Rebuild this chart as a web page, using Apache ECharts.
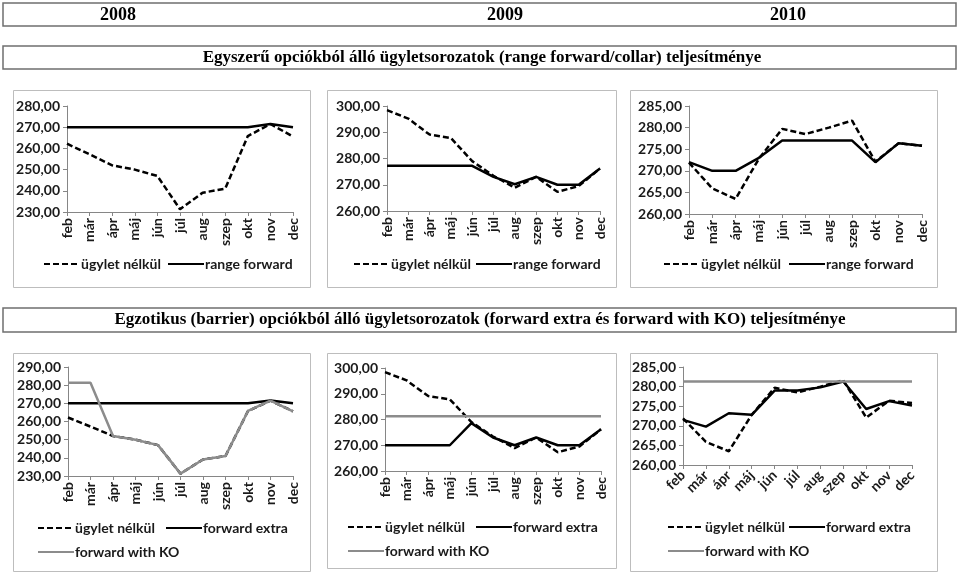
<!DOCTYPE html>
<html>
<head>
<meta charset="utf-8">
<script src="https://cdn.jsdelivr.net/npm/echarts@6/dist/echarts.min.js"></script>
<style>
html,body{margin:0;padding:0;background:#fff;}
#c{width:959px;height:575px;}
</style>
</head>
<body>
<div id="c"></div>
<script>
// ---- data ----
const months = ['feb','már','ápr','máj','jún','júl','aug','szep','okt','nov','dec'];
const years = ['2008','2009','2010'];
const title1 = 'Egyszerű opciókból álló ügyletsorozatok (range forward/collar) teljesítménye';
const title2 = 'Egzotikus (barrier) opciókból álló ügyletsorozatok (forward extra és forward with KO) teljesítménye';

const nelkul2008 = [262.2, 257.2, 252.0, 250.0, 247.0, 231.3, 239.1, 241.0, 265.8, 271.5, 265.6];
const nelkul2009 = [298.4, 295.2, 289.1, 287.8, 279.0, 273.4, 268.9, 273.0, 267.3, 269.5, 276.2];
const nelkul2010 = [271.9, 265.9, 263.5, 272.8, 279.7, 278.5, 280.0, 281.6, 272.1, 276.4, 275.8];

const rangeFwd2008 = [270.0, 270.0, 270.0, 270.0, 270.0, 270.0, 270.0, 270.0, 270.0, 271.5, 270.0];
const rangeFwd2009 = [277.2, 277.2, 277.2, 277.2, 277.2, 273.0, 270.2, 273.0, 270.0, 270.0, 276.2];
const rangeFwd2010 = [272.0, 270.0, 270.0, 273.0, 277.0, 277.0, 277.0, 277.0, 272.0, 276.4, 275.8];

const fwdExtra2008 = [270.0, 270.0, 270.0, 270.0, 270.0, 270.0, 270.0, 270.0, 270.0, 271.5, 270.0];
const fwdExtra2009 = [270.0, 270.0, 270.0, 270.0, 278.6, 273.0, 270.0, 273.0, 270.0, 270.0, 276.2];
const fwdExtra2010 = [271.5, 269.8, 273.2, 272.8, 279.0, 279.0, 279.8, 281.3, 274.3, 276.3, 275.2];

const fwdKO2008 = [281.3, 281.3, 252.0, 250.0, 247.0, 231.3, 239.1, 241.0, 265.8, 271.5, 265.6];
const fwdKO2009 = [281.3, 281.3, 281.3, 281.3, 281.3, 281.3, 281.3, 281.3, 281.3, 281.3, 281.3];
const fwdKO2010 = [281.3, 281.3, 281.3, 281.3, 281.3, 281.3, 281.3, 281.3, 281.3, 281.3, 281.3];

const yRanges = [[230, 280, 10], [260, 300, 10], [260, 285, 5], [230, 290, 10], [260, 300, 10], [260, 285, 5]];

const N1 = 'ügylet nélkül', N2 = 'range forward', N3 = 'forward extra', N4 = 'forward with KO';

// ---- layout ----
const grids = [
  {left: 67, top: 106, width: 226, height: 106},
  {left: 387, top: 106, width: 213, height: 105},
  {left: 689, top: 106, width: 233, height: 108},
  {left: 68, top: 367, width: 225, height: 109},
  {left: 385, top: 368, width: 216, height: 103},
  {left: 683, top: 367, width: 229, height: 98}
];
const frames = [
  [13, 90, 297, 197], [327, 90, 289, 197], [630, 90, 307, 197],
  [13, 353, 297, 218], [327, 353, 289, 215], [630, 353, 307, 218]
];

const font = 'Lato, "Open Sans", sans-serif';
const txtColor = '#1a1a1a';
const axisColor = '#868686';

const xAxes = [], yAxes = [];
grids.forEach((g, i) => {
  xAxes.push({
    type: 'category', gridIndex: i, data: months, boundaryGap: false,
    axisLine: {lineStyle: {color: axisColor, width: 1}},
    axisTick: {show: true, length: 4, lineStyle: {color: axisColor}},
    axisLabel: {rotate: i === 5 ? 45 : 90, margin: i === 5 ? 8 : 6, interval: 0, fontFamily: font, fontWeight: 'bold', fontSize: 14, color: txtColor}
  });
  const r = yRanges[i];
  yAxes.push({
    type: 'value', gridIndex: i, min: r[0], max: r[1], interval: r[2],
    splitLine: {show: false},
    axisLine: {show: true, lineStyle: {color: axisColor, width: 1}},
    axisTick: {show: true, length: 4, lineStyle: {color: axisColor}},
    axisLabel: {margin: 7, fontFamily: font, fontWeight: 'bold', fontSize: 14, color: txtColor,
      formatter: v => v.toFixed(2).replace('.', ',')}
  });
});

const dashStyle = {color: '#000', width: 2.5, type: [6, 3]};
const blackStyle = {color: '#000', width: 2.5, type: 'solid'};
const grayStyle = {color: '#8c8c8c', width: 2.5, type: 'solid'};

function mk(name, data, idx, style) {
  return {
    name: name, type: 'line', xAxisIndex: idx, yAxisIndex: idx, data: data,
    symbol: 'none', showSymbol: false, lineStyle: style, itemStyle: {color: style.color},
    emphasis: {disabled: true}, animation: false
  };
}

const series = [
  mk(N1, nelkul2008, 0, dashStyle), mk(N2, rangeFwd2008, 0, blackStyle),
  mk(N1, nelkul2009, 1, dashStyle), mk(N2, rangeFwd2009, 1, blackStyle),
  mk(N1, nelkul2010, 2, dashStyle), mk(N2, rangeFwd2010, 2, blackStyle),
  mk(N1, nelkul2008, 3, dashStyle), mk(N3, fwdExtra2008, 3, blackStyle), mk(N4, fwdKO2008, 3, grayStyle),
  mk(N1, nelkul2009, 4, dashStyle), mk(N3, fwdExtra2009, 4, blackStyle), mk(N4, fwdKO2009, 4, grayStyle),
  mk(N1, nelkul2010, 5, dashStyle), mk(N3, fwdExtra2010, 5, blackStyle), mk(N4, fwdKO2010, 5, grayStyle)
];

// legends: [name, left, centerY]
const legItems = [
  [N1, 43, 265], [N2, 167, 265],
  [N1, 353, 265], [N2, 475, 265],
  [N1, 663, 265], [N2, 788, 265],
  [N1, 37, 529], [N3, 165, 529], [N4, 37, 553],
  [N1, 347, 528], [N3, 475, 528], [N4, 347, 552],
  [N1, 667, 528], [N3, 788, 528], [N4, 667, 552]
];
const legends = legItems.map(it => ({
  data: [it[0]], left: it[1], top: it[2] - 8, padding: 0,
  itemWidth: 36, itemHeight: 14, itemGap: 0, selectedMode: false,
  itemStyle: {color: 'rgba(0,0,0,0)', borderColor: 'rgba(0,0,0,0)', borderWidth: 0},
  textStyle: {fontFamily: font, fontWeight: 'bold', fontSize: 14, color: txtColor, padding: [0, 0, 0, -4]}
}));

// graphics: boxes and titles
const graphic = [];
function box(x, y, w, h, stroke, lw) {
  graphic.push({type: 'rect', shape: {x: x, y: y, width: w, height: h},
    style: {fill: 'none', stroke: stroke, lineWidth: lw}, z: 1, silent: true});
}
function label(text, x, y, size) {
  graphic.push({type: 'text', x: x, y: y, style: {text: text, fill: '#000', font: 'bold ' + size + 'px "Liberation Serif", "Times New Roman", serif',
    textAlign: 'center', textVerticalAlign: 'middle'}, z: 2, silent: true});
}
box(3, 3, 953, 23, '#6f6f6f', 1.5);
box(3, 46, 953, 23, '#6f6f6f', 1.5);
box(3, 308, 953, 24, '#6f6f6f', 1.5);
label(years[0], 118, 15, 18);
label(years[1], 505, 15, 18);
label(years[2], 788, 15, 18);
label(title1, 482, 58, 17);
label(title2, 480, 320, 17);
frames.forEach(f => box(f[0] + 0.5, f[1] + 0.5, f[2], f[3], '#bdbdbd', 1));

const chart = echarts.init(document.getElementById('c'), null, {renderer: 'canvas'});
chart.setOption({
  animation: false,
  backgroundColor: '#fff',
  grid: grids,
  xAxis: xAxes,
  yAxis: yAxes,
  series: series,
  legend: legends,
  graphic: graphic
});
</script>
</body>
</html>
